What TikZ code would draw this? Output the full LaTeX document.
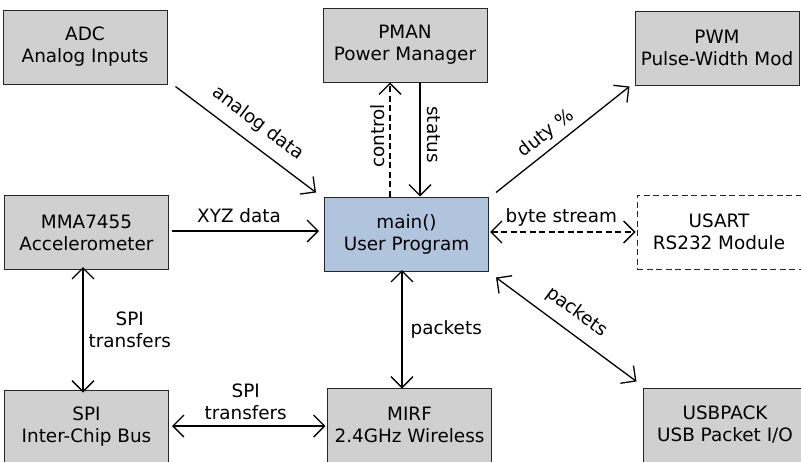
\documentclass[tikz,border=0pt]{standalone}
\usepackage{fontspec}
\setmainfont{DejaVu Sans}
\usetikzlibrary{arrows.meta}
\definecolor{boxgray}{HTML}{D0D0D0}
\definecolor{mainblue}{HTML}{B0C4DE}
\tikzset{
  every node/.style={font=\fontsize{18.4}{22}\selectfont},
  box/.style={draw=black!85, line width=1pt, fill=boxgray, minimum width=164pt,
    minimum height=74pt, inner sep=0pt, align=center},
  edge/.style={line width=1.3pt, draw=black},
  lbl/.style={inner sep=0pt, align=center},
  dashpat/.style={dash pattern=on 6pt off 3.5pt},
  >={Straight Barb[length=11pt,width=22pt]}
}
\begin{document}
\begin{tikzpicture}[x=1pt,y=-1pt]
\useasboundingbox (0,0) rectangle (801,461);

% modules
\node[box] (adc)  at (85,47)    {ADC\\Analog Inputs};
\node[box] (pman) at (405,45)   {PMAN\\Power Manager};
\node[box] (pwm)  at (717,48)   {PWM\\Pulse-Width Mod};
\node[box] (mma)  at (86.5,232.5) {MMA7455\\Accelerometer};
\node[box, fill=mainblue] (main) at (406.5,234) {main()\\User Program};
\node[box, fill=white, dashpat] (usart) at (719,232) {USART\\RS232 Module};
\node[box] (spi)  at (86.5,427) {SPI\\Inter-Chip Bus};
\node[box] (mirf) at (409.5,425) {MIRF\\2.4GHz Wireless};
\node[box] (usb)  at (725,425)  {USBPACK\\USB Packet I/O};

% x positions of the vertical links
\coordinate (cx) at (390,0);
\coordinate (sx) at (420,0);
\coordinate (px) at (402,0);
\coordinate (tx) at (83,0);

% connectors
\draw[edge,->] ([shift={(8,2)}]adc.south east) -- ([shift={(-8,-4)}]main.north west)
  node[midway, sloped, above=10.7pt, lbl] {analog data};
\draw[edge,dashpat,->] (main.north -| cx) -- (pman.south -| cx)
  node[pos=0.53, sloped, above=4.5pt, lbl] {control};
\draw[edge,->] (pman.south -| sx) -- (main.north -| sx)
  node[pos=0.456, sloped, above=7pt, lbl] {status};
\draw[edge,->] ([shift={(7,-4)}]main.north east) -- ([shift={(-5,1)}]pwm.south west)
  node[pos=0.445, sloped, above=5.3pt, lbl] {duty \%};
\draw[edge,->] ([shift={(3,-1.5)}]mma.east) -- ([shift={(-5,-3)}]main.west)
  node[pos=0.456, above=8pt, lbl] {XYZ data};
\draw[edge,dashpat,<->] ([shift={(1,-2)}]main.east) -- ([shift={(-1,0)}]usart.west)
  node[pos=0.49, above=5pt, lbl] {byte stream};
\draw[edge,<->] ([yshift=1.5]main.south -| px) -- ([yshift=-1]mirf.north -| px)
  node[midway, right=8pt, lbl] {packets};
\draw[edge,<->] ([shift={(7,6)}]main.south east) -- ([shift={(-6,-6)}]usb.north west)
  node[pos=0.49, sloped, above=10.7pt, lbl] {packets};
\draw[edge,<->] ([yshift=3]mma.south -| tx) -- ([yshift=-3]spi.north -| tx)
  node[midway, right=5pt, lbl] {SPI\\transfers};
\draw[edge,<->] ([shift={(3,-1)}]spi.east) -- ([shift={(-1.5,1)}]mirf.west)
  node[pos=0.48, above=6pt, lbl] {SPI\\transfers};
\end{tikzpicture}
\end{document}
